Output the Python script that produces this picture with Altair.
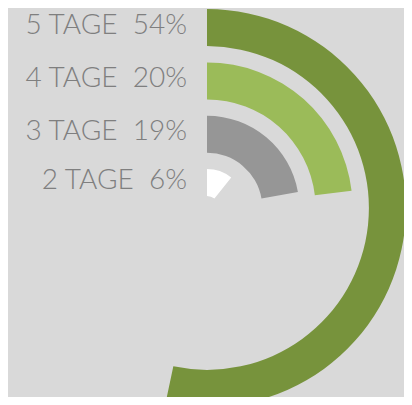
import altair as alt
import pandas as pd

categories = ["5 TAGE", "4 TAGE", "3 TAGE", "2 TAGE"]
percents = [54, 20, 19, 6]
ring = [4, 3, 2, 1]
colors = ["#77933c", "#9bbb59", "#969696", "#ffffff"]

df = pd.DataFrame({
    "cat": categories,
    "pct": percents,
    "ring": ring,
})
df["label"] = [f"{c}\u00a0 {p}%" for c, p in zip(categories, percents)]

cx, cy = 199, 200

base = alt.Chart(df).transform_calculate(
    outer="53.3*datum.ring - 14.3",
    inner="max(53.3*datum.ring - 51.3, 12)",
    mid="(max(53.3*datum.ring - 51.3, 12) + 53.3*datum.ring - 14.3)/2 + 2",
)

arcs = base.mark_arc().encode(
    x=alt.value(cx),
    y=alt.value(cy),
    theta=alt.Theta("pct:Q", scale=alt.Scale(domain=[-6, 106.5], range=[0, 6.283185307])),
    theta2=alt.datum(-6),
    radius=alt.Radius("outer:Q", scale=None),
    radius2=alt.Radius2("inner:Q"),
    color=alt.Color("cat:N", scale=alt.Scale(domain=categories, range=colors), legend=None),
)

labels = base.mark_text(
    align="right", baseline="middle", dx=-20, font="Lato", fontWeight=300,
    fontSize=28, color="#7f7f7f",
).encode(
    x=alt.value(cx),
    y=alt.value(cy),
    theta=alt.value(0),
    radius=alt.Radius("mid:Q", scale=None),
    text="label:N",
)

chart = alt.layer(arcs, labels).properties(
    width=396, height=389, background="#d9d9d9", padding=0,
    autosize=alt.AutoSizeParams(type="none"),
).configure_view(stroke=None)

chart.save("out.html", embed_options={"renderer": "svg", "actions": False})
